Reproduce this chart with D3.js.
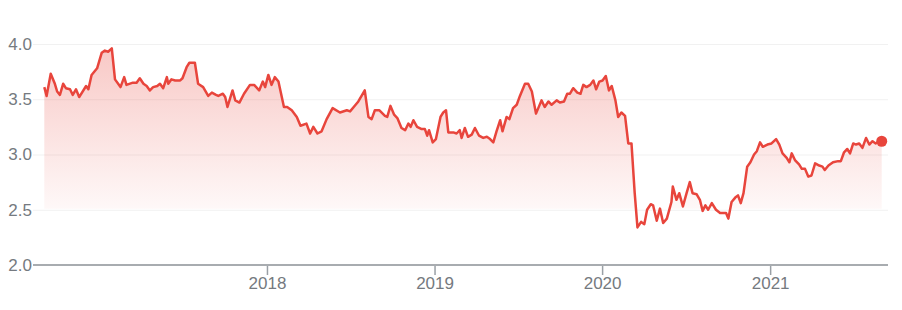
<!DOCTYPE html>
<html>
<head>
<meta charset="utf-8">
<script src="https://cdn.jsdelivr.net/npm/d3@7/dist/d3.min.js"></script>
<style>
  body { margin: 0; background: #fff; }
  svg { display: block; font-family: Arial, "Liberation Sans", sans-serif; }
</style>
</head>
<body>
<svg id="chart" width="902" height="310"></svg>
<script>
// weekly-ish closes
const dates = [
  "2016-09-03","2016-09-08","2016-09-17","2016-09-26","2016-10-01","2016-10-07","2016-10-14","2016-10-20","2016-10-29","2016-11-04",
  "2016-11-11","2016-11-18","2016-12-03","2016-12-08","2016-12-15","2016-12-27","2017-01-06","2017-01-13","2017-01-20","2017-01-28",
  "2017-02-04","2017-02-16","2017-02-24","2017-03-01","2017-03-15","2017-03-23","2017-03-30","2017-04-07","2017-04-14","2017-04-21",
  "2017-04-28","2017-05-07","2017-05-13","2017-05-20","2017-05-28","2017-05-31","2017-06-07","2017-06-15","2017-06-26","2017-07-01",
  "2017-07-10","2017-07-16","2017-07-21","2017-07-28","2017-08-04","2017-08-15","2017-08-26","2017-09-03","2017-09-12","2017-09-17",
  "2017-09-27","2017-10-02","2017-10-07","2017-10-18","2017-10-24","2017-11-02","2017-11-12","2017-11-25","2017-12-04","2017-12-15",
  "2017-12-23","2017-12-28","2018-01-04","2018-01-11","2018-01-18","2018-01-26","2018-02-07","2018-02-14","2018-02-24","2018-03-07",
  "2018-03-15","2018-03-28","2018-04-05","2018-04-12","2018-04-21","2018-04-30","2018-05-11","2018-05-24","2018-06-09","2018-06-24",
  "2018-07-01","2018-07-09","2018-07-19","2018-08-02","2018-08-10","2018-08-17","2018-08-24","2018-09-03","2018-09-15","2018-09-20",
  "2018-09-27","2018-10-05","2018-10-12","2018-10-21","2018-10-29","2018-11-05","2018-11-10","2018-11-16","2018-11-24","2018-12-04",
  "2018-12-11","2018-12-16","2018-12-20","2018-12-28","2019-01-04","2019-01-14","2019-01-20","2019-01-26","2019-01-31","2019-02-11",
  "2019-02-18","2019-02-25","2019-03-01","2019-03-08","2019-03-15","2019-03-23","2019-03-30","2019-04-08","2019-04-17","2019-04-25",
  "2019-05-02","2019-05-09","2019-05-16","2019-05-24","2019-05-29","2019-06-07","2019-06-13","2019-06-21","2019-06-29","2019-07-06",
  "2019-07-17","2019-07-24","2019-08-01","2019-08-10","2019-08-22","2019-08-29","2019-09-06","2019-09-13","2019-09-24","2019-10-01",
  "2019-10-10","2019-10-17","2019-10-23","2019-10-30","2019-11-08","2019-11-15","2019-11-21","2019-11-28","2019-12-06","2019-12-13",
  "2019-12-19","2019-12-26","2020-01-02","2020-01-09","2020-01-16","2020-01-22","2020-01-30","2020-02-05","2020-02-12","2020-02-20",
  "2020-02-27","2020-03-05","2020-03-12","2020-03-18","2020-03-26","2020-04-02","2020-04-08","2020-04-16","2020-04-21","2020-04-29",
  "2020-05-06","2020-05-13","2020-05-21","2020-05-31","2020-06-03","2020-06-11","2020-06-17","2020-06-25","2020-07-03","2020-07-10",
  "2020-07-16","2020-07-25","2020-08-01","2020-08-07","2020-08-13","2020-08-19","2020-08-27","2020-09-05","2020-09-14","2020-09-22",
  "2020-09-27","2020-10-02","2020-10-09","2020-10-17","2020-10-23","2020-10-29","2020-11-04","2020-11-08","2020-11-12","2020-11-19",
  "2020-11-27","2020-12-03","2020-12-10","2020-12-16","2020-12-26","2021-01-04","2021-01-14","2021-01-21","2021-01-28","2021-02-06",
  "2021-02-12","2021-02-17","2021-02-24","2021-03-05","2021-03-11","2021-03-18","2021-03-25","2021-04-01","2021-04-09","2021-04-18",
  "2021-04-25","2021-04-30","2021-05-08","2021-05-18","2021-05-29","2021-06-04","2021-06-11","2021-06-18","2021-06-24","2021-07-01",
  "2021-07-07","2021-07-14","2021-07-21","2021-07-29","2021-08-05","2021-08-12","2021-08-19","2021-09-01"
]

const prices = [
  3.61,3.53,3.73,3.64,3.57,3.54,3.64,3.60,3.59,3.54,
  3.59,3.52,3.62,3.59,3.72,3.78,3.92,3.94,3.93,3.96,
  3.68,3.61,3.70,3.63,3.65,3.65,3.69,3.64,3.62,3.58,
  3.61,3.62,3.64,3.60,3.70,3.64,3.68,3.67,3.67,3.69,
  3.79,3.83,3.83,3.83,3.64,3.61,3.53,3.56,3.54,3.53,
  3.55,3.52,3.43,3.58,3.49,3.47,3.55,3.63,3.63,3.58,
  3.66,3.61,3.72,3.63,3.70,3.66,3.43,3.43,3.40,3.34,
  3.26,3.28,3.19,3.25,3.19,3.21,3.32,3.42,3.38,3.40,
  3.39,3.43,3.48,3.58,3.34,3.32,3.40,3.40,3.35,3.34,
  3.44,3.36,3.33,3.24,3.22,3.28,3.25,3.31,3.25,3.23,
  3.23,3.17,3.22,3.11,3.14,3.34,3.38,3.40,3.20,3.20,
  3.19,3.22,3.15,3.24,3.16,3.18,3.24,3.17,3.15,3.16,
  3.14,3.11,3.21,3.31,3.21,3.34,3.32,3.42,3.45,3.53,
  3.64,3.64,3.57,3.37,3.49,3.43,3.48,3.45,3.49,3.47,
  3.48,3.55,3.55,3.60,3.56,3.55,3.63,3.61,3.63,3.67,
  3.59,3.66,3.67,3.71,3.58,3.62,3.49,3.34,3.38,3.35,
  3.10,3.10,2.65,2.34,2.39,2.37,2.50,2.55,2.54,2.40,
  2.51,2.38,2.42,2.57,2.71,2.59,2.65,2.53,2.65,2.75,
  2.65,2.64,2.59,2.49,2.54,2.50,2.56,2.50,2.47,2.47,
  2.47,2.42,2.57,2.61,2.63,2.56,2.65,2.77,2.89,2.93,
  3.00,3.03,3.11,3.07,3.09,3.10,3.14,3.09,3.01,2.97,
  2.93,3.01,2.95,2.91,2.87,2.87,2.80,2.81,2.92,2.90,
  2.89,2.86,2.90,2.93,2.94,2.94,3.02,3.05,3.01,3.10,
  3.09,3.10,3.06,3.15,3.09,3.12,3.10,3.12
]

const yTicks = [2.0, 2.5, 3.0, 3.5, 4.0]
const yearTicks = ["2018-01-01", "2019-01-01", "2020-01-01", "2021-01-01"]

const red = "#e8453c"
const textGrey = "#757a80"

const parse = d3.timeParse("%Y-%m-%d")
const data = dates.map((d, i) => ({ date: parse(d), value: prices[i] }))

const svg = d3.select("#chart")

// plot box
const plotL = 44.3, plotR = 881.7, plotT = 44, plotB = 265
const gridL = 33, gridR = 888

const x = d3.scaleTime()
  .domain(d3.extent(data, d => d.date))
  .range([plotL, plotR])

const y = d3.scaleLinear()
  .domain([2, 4])
  .range([plotB, plotT])

// gradient for the area
const defs = svg.append("defs")
const grad = defs.append("linearGradient")
  .attr("id", "fillGrad")
  .attr("gradientUnits", "userSpaceOnUse")
  .attr("x1", 0).attr("x2", 0)
  .attr("y1", y(4)).attr("y2", y(2.5))
grad.append("stop").attr("offset", 0).attr("stop-color", red).attr("stop-opacity", 0.3)
grad.append("stop").attr("offset", 1).attr("stop-color", red).attr("stop-opacity", 0.035)

defs.append("clipPath").attr("id", "aboveBase")
  .append("rect")
  .attr("x", 0).attr("y", 0)
  .attr("width", 902).attr("height", y(2.5) - 1)

// grid lines
svg.append("g")
  .attr("transform", `translate(${gridL},0)`)
  .call(d3.axisLeft(y).tickValues(yTicks.slice(1)).tickSize(-(gridR - gridL)).tickFormat(""))
  .call(g => g.select(".domain").remove())
  .call(g => g.selectAll("line").attr("stroke", "#f1f1f1").attr("stroke-width", 1.2))

// area + line
svg.append("path")
  .datum(data)
  .attr("clip-path", "url(#aboveBase)")
  .attr("fill", "url(#fillGrad)")
  .attr("d", d3.area().x(d => x(d.date)).y0(y(2.5)).y1(d => y(d.value)))

svg.append("path")
  .datum(data)
  .attr("fill", "none")
  .attr("stroke", red)
  .attr("stroke-width", 2.5)
  .attr("stroke-linejoin", "round")
  .attr("d", d3.line().x(d => x(d.date)).y(d => y(d.value)))

// last value dot
const last = data[data.length - 1]
svg.append("circle")
  .attr("cx", x(last.date))
  .attr("cy", y(last.value))
  .attr("r", 5.5)
  .attr("fill", red)

// x axis
const xAxis = svg.append("g")
  .attr("transform", `translate(0,${plotB})`)
  .call(d3.axisBottom(x).tickValues(yearTicks.map(parse)).tickFormat(d3.timeFormat("%Y")).tickSize(10).tickPadding(2))
xAxis.select(".domain").remove()
xAxis.selectAll("line").attr("stroke", "#9aa0a6").attr("stroke-width", 1.5)
xAxis.selectAll("text").attr("fill", textGrey).style("font-size", "17px")

svg.append("line")
  .attr("x1", gridL).attr("x2", gridR)
  .attr("y1", y(2)).attr("y2", y(2))
  .attr("stroke", "#a8acb0")
  .attr("stroke-width", 2)

// y labels
const yAxis = svg.append("g")
  .attr("transform", `translate(${gridL},0)`)
  .call(d3.axisLeft(y).tickValues(yTicks).tickFormat(d3.format(".1f")).tickSize(0).tickPadding(1))
yAxis.select(".domain").remove()
yAxis.selectAll("text").attr("fill", textGrey).style("font-size", "17px")
</script>
</body>
</html>
